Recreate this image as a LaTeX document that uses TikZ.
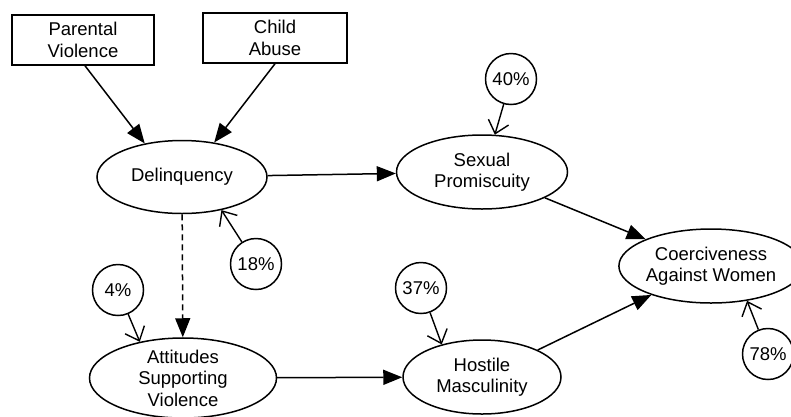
\documentclass[tikz,border=0pt]{standalone}
\usepackage{fontspec}
\setmainfont{Liberation Sans}
\usetikzlibrary{shapes.geometric,arrows.meta}
\begin{document}
\begin{tikzpicture}[x=1pt,y=-1pt,
  every node/.style={font=\fontsize{18.5}{21.5}\selectfont, align=center, line width=1.5pt},
  latent/.style={draw, ellipse, inner sep=0pt},
  obs/.style={draw, rectangle, inner sep=0pt},
  pct/.style={draw, circle, minimum size=51pt, inner sep=0pt},
  path/.style={line width=1.5pt, -{Triangle[length=19pt,width=15pt]}},
  errarrow/.style={line width=1.4pt, -{Straight Barb[length=12pt,width=21pt,line width=1.4pt]}}
]
\useasboundingbox (0,0) rectangle (791,416);
\node[obs, minimum width=142pt, minimum height=50pt] (pv) at (83,40) {Parental\\Violence};
\node[obs, minimum width=144pt, minimum height=50pt] (ca) at (275,38) {Child\\Abuse};
\node[latent, minimum width=170pt, minimum height=73pt] (del) at (182,177) {Delinquency};
\node[latent, minimum width=171pt, minimum height=74pt] (sex) at (482,172) {Sexual\\Promiscuity};
\node[latent, minimum width=187pt, minimum height=80pt] (att) at (183,378) {Attitudes\\Supporting\\Violence};
\node[latent, minimum width=158pt, minimum height=74pt] (hos) at (482,377) {Hostile\\Masculinity};
\node[latent, minimum width=158pt, minimum height=74pt] (coe) at (711,266) {Coerciveness\\Against Women};
\node[pct] (p40) at (511,79) {40\%};
\node[pct] (p18) at (256,264) {18\%};
\node[pct] (p4) at (118,290) {4\%};
\node[pct] (p37) at (421,288) {37\%};
\node[pct] (p78) at (768,354) {78\%};
\draw[path] ([xshift=2pt]pv.south) -- (del.138);
\draw[path] (ca.south) -- (del.47);
\draw[path] (del) -- (sex);
\draw[path, dash pattern=on 6pt off 4pt] (del) -- (att);
\draw[path] (att) -- (hos);
\draw[path] (sex) -- (coe);
\draw[path] (hos) -- (coe);
\draw[errarrow] (p40) -- (sex.71);
\draw[errarrow] (p18) -- (del.-40);
\draw[errarrow] (p4) -- (att.140);
\draw[errarrow] (p37) -- (hos.141);
\draw[errarrow] (p78) -- (coe.-44);
\end{tikzpicture}
\end{document}
